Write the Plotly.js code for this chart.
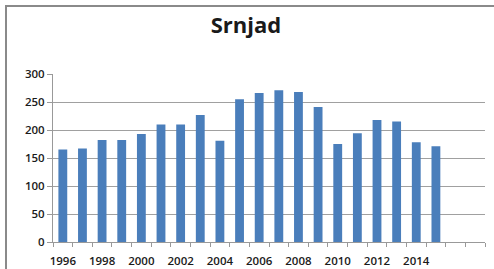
<!DOCTYPE html>
<html><head><meta charset="utf-8">
<script src="https://cdn.plot.ly/plotly-3.0.1.min.js"></script>
<style>
html,body{margin:0;padding:0;background:#fff;}
#wrap{position:relative;width:494px;height:269px;overflow:hidden;}
#chart{width:494px;height:269px;}
#frame{position:absolute;left:5px;top:5px;width:600px;height:400px;border-left:2px solid #8a8a8a;border-top:2px solid #8a8a8a;pointer-events:none;}
</style></head>
<body>
<div id="wrap"><div id="chart"></div><div id="frame"></div></div>
<script>
const years = ['1996','1997','1998','1999','2000','2001','2002','2003','2004','2005','2006','2007','2008','2009','2010','2011','2012','2013','2014','2015','2016','2017'];
const values = [165,167,182,182,193,210,210,227,181,255,266,271,268,241,175,194,218,215,178,171,null,null];
const tickLabels = ['1996','','1998','','2000','','2002','','2004','','2006','','2008','','2010','','2012','','2014','','',''];

Plotly.newPlot('chart', [{
  type:'bar', x: years, y: values,
  marker:{color:'#4a7ebb'}, hoverinfo:'none'
}], {
  width:494, height:269,
  margin:{l:53, r:9, t:74, b:27},
  paper_bgcolor:'#fff', plot_bgcolor:'#fff',
  bargap:0.55,
  showlegend:false,
  title:{text:'<b>Srnjad</b>', x:0.498, xanchor:'center', y:0.905, yanchor:'middle',
         font:{family:'Open Sans, Arial, sans-serif', size:22, color:'#1a1a1a'}},
  xaxis:{type:'category', tickvals: years, ticktext: tickLabels, tickson:'boundaries',
         ticks:'outside', ticklen:4, tickcolor:'#999', showline:true, linecolor:'#999', linewidth:1,
         ticklabelstandoff:8,
         tickfont:{family:'Open Sans, Arial, sans-serif', size:11.5, color:'#1a1a1a', weight:600}, tickangle:0,
         showgrid:false, fixedrange:true},
  yaxis:{range:[0,300], tickvals:[0,50,100,150,200,250,300], ticks:'outside', ticklen:5, tickcolor:'#999',
         showline:true, linecolor:'#999', linewidth:1, gridcolor:'#a0a0a0', gridwidth:1,
         zeroline:false, tickfont:{family:'Open Sans, Arial, sans-serif', size:11.5, color:'#1a1a1a', weight:600},
         fixedrange:true}
}, {staticPlot:true});
</script>
</body></html>
